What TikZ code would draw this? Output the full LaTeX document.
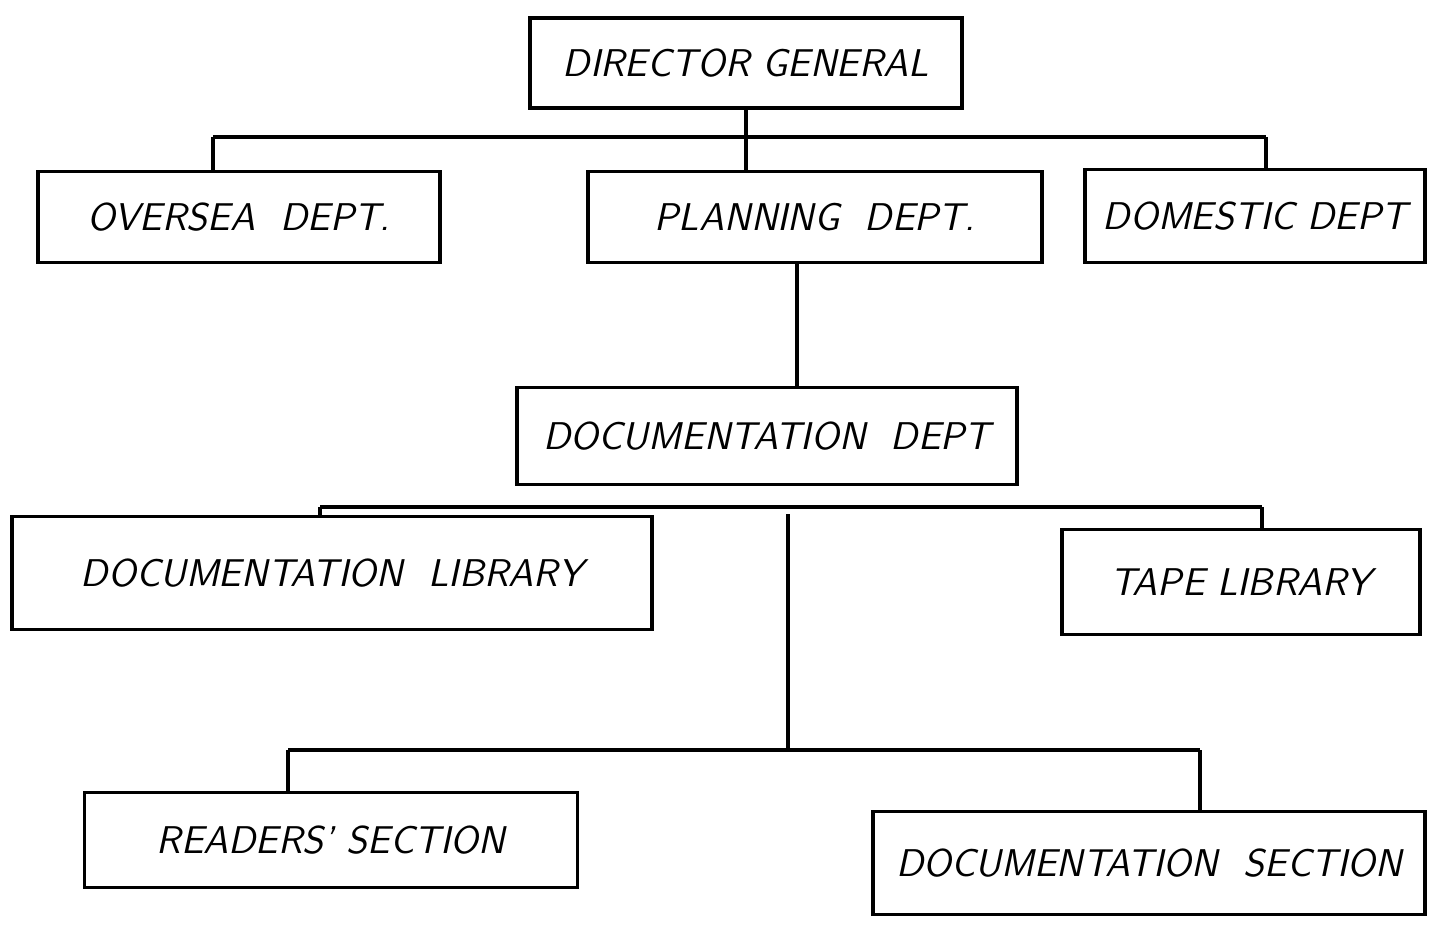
\documentclass[tikz,border=0pt]{standalone}
\usetikzlibrary{positioning}
\tikzset{unit/.style={draw=black, line width=1pt, inner sep=0pt, font=\sffamily\itshape\fontsize{11}{13}\selectfont, align=center}}
\tikzset{link/.style={black, line width=1pt}}

\begin{document}
\begin{tikzpicture}[x=0.01cm, y=-0.01cm]
  \useasboundingbox (0,0) rectangle (1429,926);
  % boxes
  \node[unit, minimum width=4.32cm, minimum height=0.9cm] (dg) at (746,63) {DIRECTOR GENERAL};
  \node[unit, minimum width=4.02cm, minimum height=0.91cm] (ov) at (239,217) {OVERSEA \ DEPT.};
  \node[unit, minimum width=4.54cm, minimum height=0.91cm] (pl) at (815,217) {PLANNING \ DEPT.};
  \node[unit, minimum width=3.40cm, minimum height=0.93cm] (dom) at (1255,216) {DOMESTIC DEPT};
  \node[unit, minimum width=5.00cm, minimum height=0.97cm] (dd) at (767,436) {DOCUMENTATION \ DEPT};
  \node[unit, minimum width=6.40cm, minimum height=1.13cm] (dl) at (332,573) {DOCUMENTATION \ LIBRARY};
  \node[unit, minimum width=3.58cm, minimum height=1.05cm] (tl) at (1241,582) {TAPE LIBRARY};
  \node[unit, minimum width=4.93cm, minimum height=0.95cm] (rs) at (331,840) {READERS' SECTION};
  \node[unit, minimum width=5.52cm, minimum height=1.03cm] (ds) at (1149,863) {DOCUMENTATION \ SECTION};

  % first level
  \coordinate (b1l) at (213,137);
  \coordinate (b1r) at (1266,137);
  \draw[link] (dg.south) -- (dg.south |- b1l);
  \draw[link] (b1l) -- (b1r);
  \draw[link] (b1l) -- (b1l |- ov.north);
  \draw[link] (dg.south |- b1l) -- (dg.south |- pl.north);
  \draw[link] (b1r) -- (b1r |- dom.north);

  % planning to documentation
  \coordinate (p1) at (797,0);
  \draw[link] (p1 |- pl.south) -- (p1 |- dd.north);

  % second level
  \coordinate (b2l) at (320,507);
  \coordinate (b2r) at (1262,507);
  \coordinate (b2m) at (788,514);
  \draw[link] (b2l) -- (b2r);
  \draw[link] (b2l) -- (b2l |- dl.north);
  \draw[link] (b2r) -- (b2r |- tl.north);

  % third level
  \coordinate (b3l) at (288,750);
  \coordinate (b3r) at (1200,750);
  \draw[link] (b2m) -- (b2m |- b3l);
  \draw[link] (b3l) -- (b3r);
  \draw[link] (b3l) -- (b3l |- rs.north);
  \draw[link] (b3r) -- (b3r |- ds.north);
\end{tikzpicture}
\end{document}
